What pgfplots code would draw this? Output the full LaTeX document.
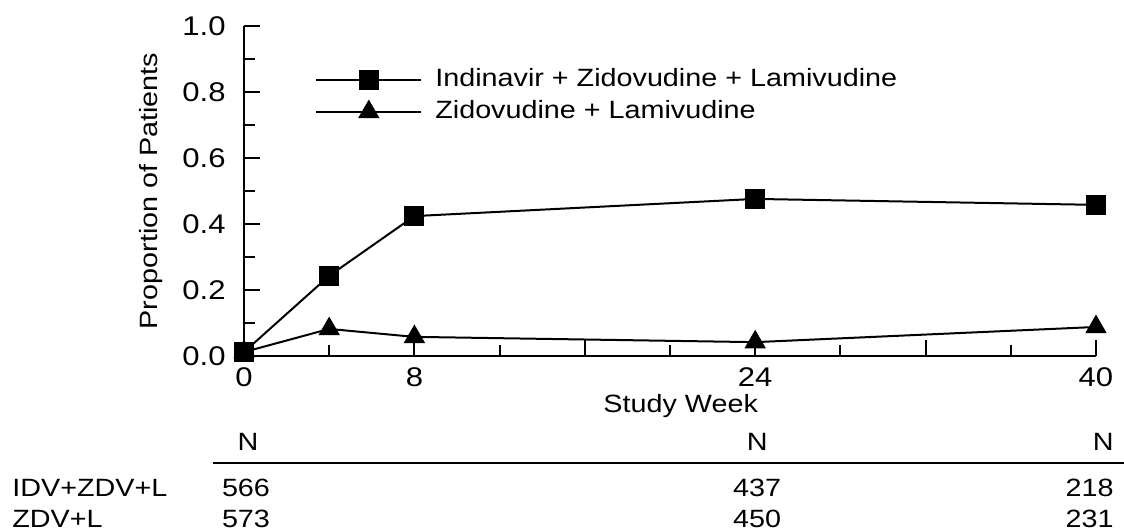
\documentclass[border=0pt]{standalone}
\usepackage{fontspec}
\setmainfont{Liberation Sans}[FakeStretch=1.15]
\usepackage{pgfplots}
\pgfplotsset{compat=1.18}
\begin{document}
\fontsize{12.5}{14}\selectfont
\begin{tikzpicture}
\useasboundingbox (-122pt,-87.5pt) rectangle (440pt,178pt);
\begin{axis}[
  scale only axis, width=426pt, height=165pt,
  xmin=0, xmax=40, ymin=0, ymax=1,
  axis x line=bottom, axis y line=left,
  axis line style={-, line width=1pt},
  tick align=inside,
  xtick={0,8,16,24,32,40}, xticklabels={0,8,,24,,40},
  minor xtick={4,12,20,28,36},
  ytick={0,0.2,0.4,0.6,0.8,1.0},
  minor ytick={0.1,0.3,0.5,0.7,0.9},
  yticklabel style={/pgf/number format/fixed, /pgf/number format/fixed zerofill, /pgf/number format/precision=1, anchor=east, inner sep=0pt, xshift=-9pt},
  xticklabel style={anchor=north, inner sep=0pt, yshift=-5.5pt},
  /pgf/number format/assume math mode=true,
  major tick length=8pt, minor tick length=5.5pt,
  every tick/.style={black, line width=1pt},
  tick label style={font=\fontsize{13.5}{15}\selectfont},
  xlabel={Study Week},
  xlabel style={at={(axis description cs:0.5125,0)}, anchor=base, inner sep=0pt, yshift=-28pt, font=\fontsize{12.5}{14}\selectfont},
  ylabel={Proportion of Patients},
  ylabel style={at={(axis description cs:-0.109,0.5)}, anchor=center, inner sep=0pt, font=\fontsize{12.5}{14}\selectfont},
  clip=false,
  legend cell align=left,
  legend image code/.code={\draw[mark repeat=2,mark phase=2,#1] plot coordinates {(0pt,0pt) (26.25pt,0pt) (52.5pt,0pt)};},
  legend style={draw=none, fill=none, at={(axis cs:3.33,0.788)}, anchor=west, inner sep=0pt,
    nodes={inner sep=0pt, text height=8.9pt, text depth=2.6pt}, row sep=4.5pt, column sep=6.5pt,
    font=\fontsize{12.5}{14}\selectfont},
]
\addplot[black, line width=1pt, mark=square*, mark size=4.5pt, mark options={solid}]
  coordinates {(0,0.012) (4,0.243) (8,0.424) (24,0.476) (40,0.458)};
\addlegendentry{Indinavir + Zidovudine + Lamivudine}
\addplot[black, line width=1pt, mark=triangle*, mark size=5.2pt, mark options={solid}]
  coordinates {(0,0.012) (4,0.082) (8,0.058) (24,0.042) (40,0.088)};
\addlegendentry{Zidovudine + Lamivudine}
% N table below the chart
\draw[black, line width=1pt] (axis cs:0,0) ++(-15.5pt,-53.5pt) -- ++(455.5pt,0pt);
\node[anchor=base, inner sep=0pt] at (axis cs:0,0) [yshift=-47pt, xshift=2pt] {N};
\node[anchor=base, inner sep=0pt] at (axis cs:24,0) [yshift=-47pt, xshift=1pt] {N};
\node[anchor=base east, inner sep=0pt] at (axis cs:40,0) [yshift=-47pt, xshift=9pt] {N};
\node[anchor=base west, inner sep=0pt] at (axis cs:0,0) [yshift=-70pt, xshift=-116pt] {IDV+ZDV+L};
\node[anchor=base west, inner sep=0pt] at (axis cs:0,0) [yshift=-85.5pt, xshift=-116pt] {ZDV+L};
\node[anchor=base, inner sep=0pt] at (axis cs:0,0) [yshift=-70pt, xshift=1pt] {566};
\node[anchor=base, inner sep=0pt] at (axis cs:0,0) [yshift=-85.5pt, xshift=1pt] {573};
\node[anchor=base, inner sep=0pt] at (axis cs:24,0) [yshift=-70pt, xshift=1pt] {437};
\node[anchor=base, inner sep=0pt] at (axis cs:24,0) [yshift=-85.5pt, xshift=1pt] {450};
\node[anchor=base east, inner sep=0pt] at (axis cs:40,0) [yshift=-70pt, xshift=9pt] {218};
\node[anchor=base east, inner sep=0pt] at (axis cs:40,0) [yshift=-85.5pt, xshift=9pt] {231};
\end{axis}
\end{tikzpicture}
\end{document}
